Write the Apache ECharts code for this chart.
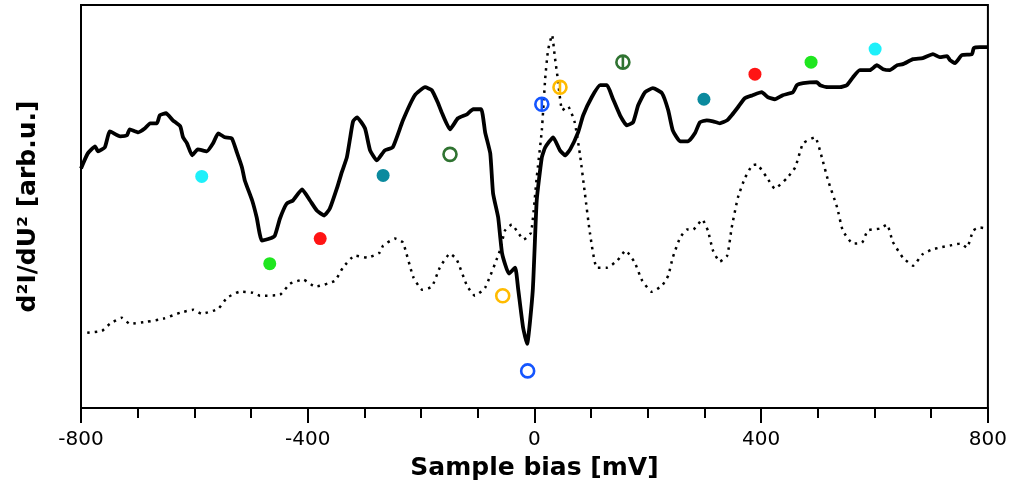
<!DOCTYPE html>
<html>
<head>
<meta charset="utf-8">
<script src="https://cdn.jsdelivr.net/npm/echarts@6/dist/echarts.min.js"></script>
<style>
  html, body { margin: 0; padding: 0; background: #fff; }
  #chart { width: 1010px; height: 486px; }
</style>
</head>
<body>
<div id="chart"></div>
<script>
// sample bias [mV] and d2I/dU2 level (arb.u.), solid trace
const solidBias = [-800, -788, -775, -770, -758, -749, -731, -719, -714, -699, -687, -678, -666, -661, -650, -638, -625, -620, -613, -604,
  -594, -578, -567, -558, -546, -534, -525, -516, -511, -498, -490, -481, -467, -458, -449, -437, -426, -410, -396, -384,
  -371, -361, -348, -340, -331, -325, -320, -313, -299, -290, -278, -264, -250, -232, -211, -193, -181, -170, -163, -149,
  -135, -119, -108, -94, -87, -78, -73, -64, -57, -45, -34, -29, -20, -13, -3, 4, 13, 19, 33, 45,
  54, 63, 77, 86, 101, 116, 128, 138, 151, 163, 174, 183, 195, 209, 225, 236, 244, 257, 271, 283,
  292, 304, 315, 327, 340, 348, 359, 371, 385, 401, 412, 424, 438, 456, 463, 474, 498, 504, 518, 539,
  551, 562, 574, 592, 604, 615, 627, 640, 650, 668, 685, 703, 715, 728, 733, 742, 754, 772, 775, 786, 800];
const solidLevel = [239, 254, 261, 256, 260, 276, 271, 272, 278, 275, 279, 284, 284, 292, 294, 287, 281, 270, 264, 252,
  258, 256, 264, 274, 270, 269, 255, 240, 227, 207, 190, 167, 169, 172, 189, 204, 207, 218, 207, 197,
  192, 199, 220, 235, 250, 270, 286, 290, 279, 257, 247, 257, 260, 287, 312, 320, 317, 304, 294, 278,
  289, 293, 298, 298, 275, 254, 214, 190, 154, 134, 140, 120, 80, 64, 117, 207, 250, 260, 270, 257,
  252, 258, 275, 292, 310, 322, 322, 309, 292, 282, 285, 302, 315, 319, 314, 297, 277, 266, 266, 274,
  285, 287, 286, 284, 287, 292, 300, 309, 312, 315, 310, 308, 312, 315, 322, 324, 325, 322, 320, 320,
  322, 330, 337, 337, 342, 338, 337, 342, 343, 348, 349, 353, 350, 351, 347, 344, 352, 353, 359, 360, 360];

// dotted trace
const dottedBias = [-789, -763, -749, -728, -714, -684, -655, -625, -602, -587, -558, -542, -520, -497, -484, -449, -431, -408, -387, -352,
  -338, -317, -295, -273, -267, -246, -232, -214, -198, -181, -167, -149, -137, -119, -105, -87, -61, -52, -40, -29,
  -19, -6, 4, 13, 19, 24, 31, 36, 41, 49, 59, 71, 80, 89, 98, 110, 128, 146, 161, 177,
  190, 207, 225, 236, 244, 257, 269, 280, 296, 306, 315, 327, 340, 348, 359, 371, 384, 392, 410, 424,
  445, 460, 474, 495, 507, 518, 534, 544, 562, 578, 588, 609, 622, 632, 650, 668, 684, 701, 715, 733,
  751, 763, 774, 786, 800];
const dottedLevel = [75, 77, 84, 90, 84, 86, 89, 95, 98, 94, 99, 110, 116, 115, 112, 113, 124, 128, 121, 127,
  140, 152, 150, 155, 162, 169, 165, 131, 118, 121, 140, 154, 148, 122, 112, 120, 157, 177, 183, 175,
  168, 175, 230, 277, 329, 357, 372, 350, 329, 297, 301, 285, 254, 214, 174, 140, 140, 147, 157, 145,
  127, 116, 122, 132, 150, 170, 178, 178, 188, 177, 157, 146, 152, 180, 210, 229, 242, 243, 230, 219,
  229, 240, 264, 270, 250, 227, 200, 177, 164, 165, 177, 179, 183, 166, 150, 142, 153, 158, 160, 162,
  164, 160, 177, 180, 179];

// peak markers
const filledBias = [-587, 601, -467, 488, -378, 389, -267, 299];
const filledLevel = [231, 358, 144, 345, 169, 333, 232, 308];
const openBias = [-149, -56, -12];
const openLevel = [253, 112, 37];
const barredBias = [156, 45, 13];
const barredLevel = [345, 320, 303];

const xTicks = [-800, -400, 0, 400, 800];

const filledColors = ['#1ef0fa', '#1ef0fa', '#1fe61f', '#1fe61f', '#ff1414', '#ff1414', '#0b8a9e', '#0b8a9e'];
const ringColors = ['#2f7331', '#ffbb00', '#1455ff'];

const FONT = 'DejaVu Sans';
// ring with a vertical bar, built from quarter arcs so the box is symmetric
const barredPath = 'path://M-10,0A10,10 0 0,1 0,-10A10,10 0 0,1 10,0A10,10 0 0,1 0,10A10,10 0 0,1 -10,0ZM0,-10L0,10';

function zip(xs, ys) {
  return xs.map((x, i) => [x, ys[i]]);
}

function markerData(xs, ys, colors, filled) {
  return xs.map((x, i) => ({
    value: [x, ys[i]],
    itemStyle: filled
      ? { color: colors[i], opacity: 1 }
      : { color: 'rgba(0,0,0,0)', borderColor: colors[i], borderWidth: 2.6, opacity: 1 }
  }));
}

const chart = echarts.init(document.getElementById('chart'), null, { renderer: 'canvas' });

const option = {
  animation: false,
  backgroundColor: '#fff',
  grid: {
    left: 81, right: 22, top: 5, bottom: 78,
    show: true, borderColor: '#000', borderWidth: 2, backgroundColor: 'transparent'
  },
  xAxis: {
    type: 'value',
    min: -800, max: 800, interval: 400,
    name: 'Sample bias [mV]',
    nameLocation: 'middle',
    nameGap: 48,
    nameTextStyle: { fontFamily: FONT, fontSize: 25, fontWeight: 'bold', color: '#000' },
    axisLine: { show: true, onZero: false, lineStyle: { color: '#000', width: 2 } },
    axisTick: { show: true, inside: false, length: 15, lineStyle: { color: '#000', width: 2 } },
    minorTick: { show: true, splitNumber: 4, length: 10, lineStyle: { color: '#000', width: 2 } },
    axisLabel: {
      fontFamily: FONT, fontSize: 20, color: '#000', margin: 22,
      formatter: v => (xTicks.includes(v) ? String(v) : '')
    },
    splitLine: { show: false }
  },
  yAxis: {
    type: 'value',
    min: 0, max: 402,
    name: 'd\u00b2I/dU\u00b2 [arb.u.]',
    nameLocation: 'middle',
    nameRotate: 90,
    nameGap: 40,
    nameTextStyle: { fontFamily: FONT, fontSize: 25, fontWeight: 'bold', color: '#000' },
    axisLine: { show: false },
    axisTick: { show: false },
    axisLabel: { show: false },
    splitLine: { show: false }
  },
  series: [
    {
      type: 'line',
      data: zip(dottedBias, dottedLevel),
      showSymbol: false,
      smooth: 0.15,
      lineStyle: { color: '#000', width: 2.5, type: [2.5, 5], cap: 'butt' },
      z: 2
    },
    {
      type: 'line',
      data: zip(solidBias, solidLevel),
      showSymbol: false,
      smooth: 0.15,
      lineStyle: { color: '#000', width: 3.8 },
      z: 3
    },
    {
      type: 'scatter',
      symbol: 'circle',
      symbolSize: 13,
      data: markerData(filledBias, filledLevel, filledColors, true),
      z: 4
    },
    {
      type: 'scatter',
      symbol: 'circle',
      symbolSize: 13,
      data: markerData(openBias, openLevel, ringColors, false),
      z: 4
    },
    {
      type: 'scatter',
      symbol: barredPath,
      symbolSize: 13,
      data: markerData(barredBias, barredLevel, ringColors, false),
      z: 4
    }
  ]
};

chart.setOption(option);
</script>
</body>
</html>
